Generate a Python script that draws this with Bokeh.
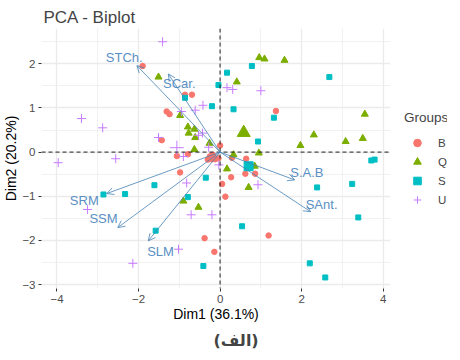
from bokeh.plotting import figure
from bokeh.layouts import row
from bokeh.models import (ColumnDataSource, Arrow, OpenHead, Span, Legend, LegendItem,
                          FixedTicker, Title, Range1d)
from bokeh.core.properties import value
from bokeh.embed import file_html
from bokeh.resources import INLINE

# ---- individuals (PCA coordinates) by group ----
b_x = [-1.90, -0.86, -0.69, -1.31, -1.24, -1.43, 0.00, -1.06, -0.79, -0.98, -0.25, -0.18,
       -0.12, -0.30, -0.04, 0.64, 0.29, 0.62, 0.86, 0.27, 0.05, 0.13, 1.37, 1.19, -0.38, -0.14]
b_y = [1.95, 1.30, 1.30, 0.92, 0.86, 0.27, 0.15, -0.09, -0.05, -0.46, -0.10, -0.06,
       -0.16, -0.17, -0.14, -0.15, -0.13, -0.49, -0.49, -0.57, -0.72, -1.01, 0.93, -1.89, -1.95, -2.26]

q_x = [-1.51, -0.98, -0.79, -0.63, -0.77, -0.61, -0.26, -0.63, 0.96, 1.09, 1.58, 0.41,
       3.55, 2.30, 3.50, 3.08, 1.97, 0.95, 0.33, 0.17, 0.85, 0.70, -0.90, -0.53]
q_y = [1.70, 0.83, 0.57, 0.52, 0.43, 0.33, 0.20, 0.06, 2.14, 2.11, 2.08, 1.59,
       0.86, 0.39, 0.31, 0.24, 0.15, -0.02, -0.06, -0.38, -0.32, -0.80, -1.11, -1.25]

s_x = [-0.04, 0.17, -0.86, -0.20, 0.78, 2.68, 0.33, 1.32, 0.93, 3.71, 3.79, -0.35,
       2.38, 3.24, 3.39, 0.54, -0.41, 2.20, 2.58, -1.61, -2.86, -2.33, -0.79, -1.58]
s_y = [1.52, 1.80, 1.23, 1.04, 1.95, 1.70, 0.97, 0.78, 0.24, -0.19, -0.17, -0.58,
       -0.80, -0.72, -1.48, -1.68, -2.58, -2.52, -2.84, -0.75, -0.96, -0.95, -1.02, -1.78]

u_x = [-1.41, 0.17, 0.31, 1.00, -0.61, -0.42, -0.95, -3.40, -2.88, -0.53, -0.43, -1.51,
       -0.28, -3.97, -2.56, -0.90, -0.03, 0.93, -0.20, -0.82, -3.25, -0.71, -1.02, -2.14]
u_y = [2.50, 1.46, 1.42, 1.39, 0.95, 1.06, 0.92, 0.76, 0.55, 0.38, 0.43, 0.33,
       0.11, -0.24, -0.15, -0.10, -0.29, -0.74, -1.42, -0.70, -1.30, -1.42, -2.20, -2.52]

# ---- group mean points ----
mean_b = (-0.20, -0.12)
mean_q = (0.58, 0.44)
mean_s = (0.70, -0.32)
mean_u = (-1.06, 0.10)

# ---- variables (loadings) ----
var_names = ["STCh.", "SCar.", "S.A.B", "SAnt.", "SRM", "SSM", "SLM"]
var_x0 = [0, 0, 0, 0, 0, 0, 0]
var_y0 = [0, 0, 0, 0, 0, 0, 0]
var_x = [-2.04, -1.27, 1.83, 2.22, -2.78, -2.51, -1.76]
var_y = [1.96, 1.77, -0.63, -1.35, -0.94, -1.71, -2.01]
lab_x = [-2.35, -1.00, 2.13, 2.49, -3.33, -2.86, -1.46]
lab_y = [2.14, 1.55, -0.46, -1.19, -1.10, -1.51, -2.26]

group_labels = ["B", "Q", "S", "U"]
x_ticks = [-4, -2, 0, 2, 4]
x_minor = [-3, -1, 1, 3]
y_ticks = [-3, -2, -1, 0, 1, 2]
y_minor = [-2.5, -1.5, -0.5, 0.5, 1.5, 2.5]

C_B, C_Q, C_S, C_U = "#F8766D", "#7CAE00", "#00BFC4", "#C77CFF"
FONT = "Liberation Sans"
H = 344

p = figure(frame_width=349, frame_height=260, output_backend="svg", toolbar_location=None,
           x_range=Range1d(-4.38, 4.18), y_range=Range1d(-3.09, 2.80),
           min_border_left=30, min_border_right=4, min_border_top=28, min_border_bottom=54)
p.background_fill_color = "white"
p.border_fill_color = "white"
p.outline_line_color = None

p.title.text = "PCA - Biplot"
p.title.text_font = FONT
p.title.text_font_size = "17px"
p.title.text_font_style = "normal"
p.title.align = "left"
p.title.offset = 2
p.title.standoff = 4

for ax in (p.xaxis, p.yaxis):
    ax.axis_line_color = None
    ax.major_tick_line_color = "#333333"
    ax.major_tick_out = 3
    ax.major_tick_in = 0
    ax.minor_tick_line_color = None
    ax.major_label_text_font = FONT
    ax.major_label_text_font_size = "11.5px"
    ax.major_label_text_color = "#4D4D4D"
    ax.major_label_standoff = 2
    ax.axis_label_text_font = FONT
    ax.axis_label_text_font_size = "14px"
    ax.axis_label_text_font_style = "normal"
    ax.axis_label_text_color = "black"
    ax.axis_label_standoff = 0

p.xaxis.axis_label = "Dim1 (36.1%)"
p.yaxis.axis_label = "Dim2 (20.2%)"
p.xaxis.major_label_standoff = 2
p.xaxis.ticker = FixedTicker(ticks=x_ticks, minor_ticks=x_minor)
p.yaxis.ticker = FixedTicker(ticks=y_ticks, minor_ticks=y_minor)

for g in (p.xgrid, p.ygrid):
    g.grid_line_color = "#EBEBEB"
    g.grid_line_width = 1.3
    g.minor_grid_line_color = "#EBEBEB"
    g.minor_grid_line_width = 0.7

p.add_layout(Span(location=0, dimension="width", line_color="#222222", line_width=1, line_dash="4 3"))
p.add_layout(Span(location=0, dimension="height", line_color="#222222", line_width=1, line_dash="4 3"))

styles = {
    "B": dict(marker="circle", fill_color=C_B, line_color=C_B),
    "Q": dict(marker="triangle", fill_color=C_Q, line_color=C_Q),
    "S": dict(marker="square", fill_color=C_S, line_color=C_S),
    "U": dict(marker="cross", line_color=C_U, line_width=1),
}

p.scatter(b_x, b_y, size=5.5, **styles["B"])
p.scatter(q_x, q_y, size=7, **styles["Q"])
p.scatter(s_x, s_y, size=5, **styles["S"])
p.scatter(u_x, u_y, size=9, **styles["U"])

means = {"B": mean_b, "Q": mean_q, "S": mean_s, "U": mean_u}
mean_sizes = {"B": 9, "Q": 13, "S": 9, "U": 14}
for g in group_labels:
    p.scatter([means[g][0]], [means[g][1]], size=mean_sizes[g], **styles[g])

vsrc = ColumnDataSource(dict(x0=var_x0, y0=var_y0, x1=var_x, y1=var_y))
p.add_layout(Arrow(end=OpenHead(size=7, line_color="steelblue", line_width=0.8),
                   x_start="x0", y_start="y0", x_end="x1", y_end="y1", source=vsrc,
                   line_color="steelblue", line_width=0.8))
lsrc = ColumnDataSource(dict(x=lab_x, y=lab_y, t=var_names))
p.text(x="x", y="y", text="t", source=lsrc, text_align="center", text_baseline="middle",
       text_font=value(FONT), text_font_size="13px", text_color="#5A8FC4")

p.add_layout(Title(text="(الف)", align="left", offset=172, text_font="DejaVu Sans",
                   text_font_size="16px", text_font_style="bold", standoff=9), "below")

# ---- legend in a narrow companion figure (its points lie outside its ranges) ----
lf = figure(width=53, height=H, output_backend="svg", toolbar_location=None,
            x_axis_type=None, y_axis_type=None, min_border=0,
            x_range=Range1d(100, 101), y_range=Range1d(100, 101))
lf.outline_line_color = None
lf.xgrid.visible = False
lf.ygrid.visible = False
items = []
for g in group_labels:
    r = lf.scatter([means[g][0]], [means[g][1]], size=10, **styles[g])
    items.append(LegendItem(label=g, renderers=[r]))

legend = Legend(items=items, title="Groups", location=(10, 69), orientation="vertical")
legend.title_text_font = FONT
legend.title_text_font_size = "13.5px"
legend.title_text_font_style = "normal"
legend.title_standoff = 8
legend.label_text_font = FONT
legend.label_text_font_size = "11.5px"
legend.glyph_width = 26
legend.glyph_height = 19
legend.label_height = 19
legend.label_standoff = 8
legend.spacing = 0
legend.padding = 2
legend.margin = 0
legend.border_line_color = None
legend.background_fill_alpha = 0
lf.add_layout(legend, "center")

layout = row(p, lf, spacing=0)
open("out.html", "w").write(file_html(layout, INLINE))
